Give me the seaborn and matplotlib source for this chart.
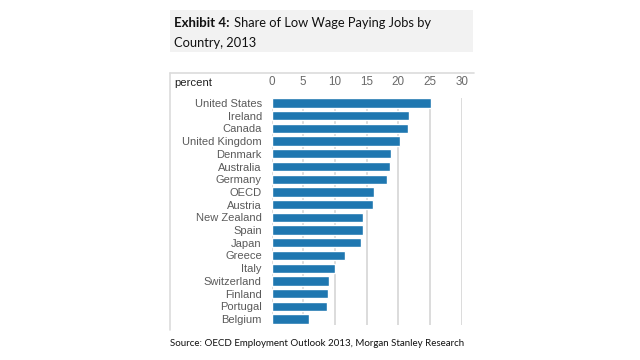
import matplotlib
matplotlib.use("Agg")
import matplotlib.pyplot as plt
import seaborn as sns
import pandas as pd
from matplotlib.patches import Rectangle
from matplotlib.lines import Line2D

countries = ["United States", "Ireland", "Canada", "United Kingdom", "Denmark",
             "Australia", "Germany", "OECD", "Austria", "New Zealand", "Spain",
             "Japan", "Greece", "Italy", "Switzerland", "Finland", "Portugal",
             "Belgium"]
values = [25.2, 21.7, 21.6, 20.3, 18.9, 18.75, 18.2, 16.2, 15.95, 14.5, 14.5,
          14.15, 11.6, 9.95, 9.1, 8.85, 8.7, 5.9]
xticks = [0, 5, 10, 15, 20, 25, 30]

sns.set_theme(style="white")
plt.rcParams['font.family'] = ['Liberation Sans', 'DejaVu Sans']

df = pd.DataFrame({"country": countries, "value": values})

W, H = 640, 360
fig = plt.figure(figsize=(6.4, 3.6), dpi=100)
fig.patch.set_facecolor("white")

# title box
fig.patches.append(Rectangle((170 / W, 1 - 52 / H), (473 - 170) / W, 42 / H,
                             transform=fig.transFigure, facecolor="#f2f2f2",
                             edgecolor="none", zorder=0))
# frame lines
fig.lines.append(Line2D([170 / W, 474 / W], [1 - 73 / H, 1 - 73 / H],
                        transform=fig.transFigure, color="#dcdcdc", lw=1.2))
fig.lines.append(Line2D([170 / W, 170 / W], [1 - 73 / H, 1 - 330 / H],
                        transform=fig.transFigure, color="#dcdcdc", lw=1.2))

ax = fig.add_axes([271.5 / W, 1 - 325 / H, (461.7 - 271.5) / W, (325 - 98) / H])
sns.barplot(data=df, x="value", y="country", orient="h", color="#1f77b0",
            saturation=1, width=0.73, ax=ax, zorder=3)
ax.set_xlim(0, 30)
ax.set_ylim(17.47, -0.39)
ax.set_xticks(xticks)
ax.set_xticklabels([str(t) for t in xticks])
ax.xaxis.tick_top()
ax.grid(axis="x", color="#d2d2d2", lw=1.1, zorder=0)
ax.grid(axis="y", visible=False)
ax.set_axisbelow(True)
for s in ax.spines.values():
    s.set_visible(False)
ax.tick_params(axis="x", length=0, pad=7, labelsize=8.4, labelcolor="#6a6a6a")
ax.tick_params(axis="y", length=0, pad=7, labelsize=8.0, labelcolor="#5a5a5a")
ax.set_xlabel("")
ax.set_ylabel("")
ax.set_facecolor("none")

fig.text(174 / W, 1 - 83 / H, "percent", fontsize=8.2, color="#222222",
         va="center", ha="left")

tfont = ['Lato', 'DejaVu Sans']
fig.text(174 / W, 1 - 23 / H, "Exhibit 4:", fontsize=9.5, fontweight="bold",
         family=tfont, va="center", ha="left", color="#111111")
fig.text(234 / W, 1 - 23 / H, "Share of Low Wage Paying Jobs by", fontsize=9.3,
         family=tfont, va="center", ha="left", color="#111111")
fig.text(174 / W, 1 - 43 / H, "Country, 2013", fontsize=9.3,
         family=tfont, va="center", ha="left", color="#111111")

fig.text(170 / W, 1 - 343 / H,
         "Source: OECD Employment Outlook 2013, Morgan Stanley Research",
         fontsize=7.0, family=tfont, va="center", ha="left", color="#111111")

fig.savefig("out.png", dpi=100)
